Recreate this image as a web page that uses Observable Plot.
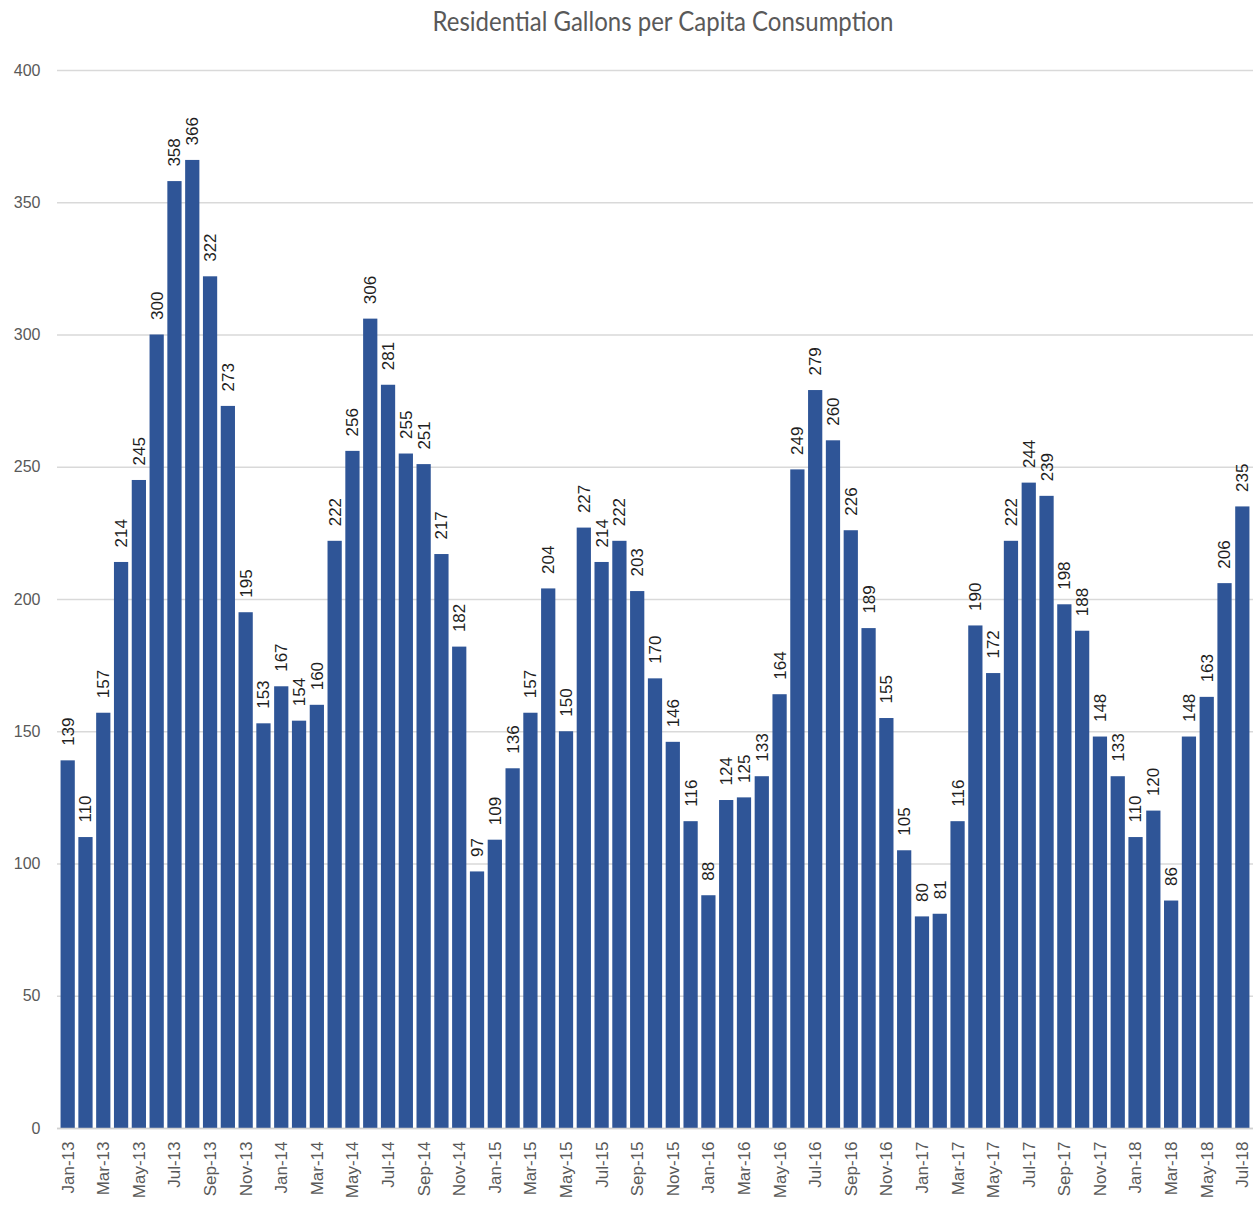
<!DOCTYPE html>
<html>
<head>
<meta charset="utf-8">
<script src="https://cdn.jsdelivr.net/npm/d3@7"></script>
<script src="https://cdn.jsdelivr.net/npm/@observablehq/plot@0.6"></script>
<style>
  html, body { margin: 0; padding: 0; background: #fff; }
  #title { position: relative; height: 45px; width: 1259px; }
  #title span { position: absolute; left: 663px; top: 3px; transform: translateX(-50%) scaleY(1.15); transform-origin: 50% 0;
    font-family: Lato, "Open Sans", sans-serif; font-size: 24px; color: #595959; white-space: nowrap; }
</style>
</head>
<body>
<div id="title"><span>Residential Gallons per Capita Consumption</span></div>
<div id="chart"></div>
<script>
const months = [
  "Jan-13","Feb-13","Mar-13","Apr-13","May-13","Jun-13","Jul-13","Aug-13","Sep-13","Oct-13","Nov-13","Dec-13",
  "Jan-14","Feb-14","Mar-14","Apr-14","May-14","Jun-14","Jul-14","Aug-14","Sep-14","Oct-14","Nov-14","Dec-14",
  "Jan-15","Feb-15","Mar-15","Apr-15","May-15","Jun-15","Jul-15","Aug-15","Sep-15","Oct-15","Nov-15","Dec-15",
  "Jan-16","Feb-16","Mar-16","Apr-16","May-16","Jun-16","Jul-16","Aug-16","Sep-16","Oct-16","Nov-16","Dec-16",
  "Jan-17","Feb-17","Mar-17","Apr-17","May-17","Jun-17","Jul-17","Aug-17","Sep-17","Oct-17","Nov-17","Dec-17",
  "Jan-18","Feb-18","Mar-18","Apr-18","May-18","Jun-18","Jul-18"
];
const gallons = [
  139,110,157,214,245,300,358,366,322,273,195,153,
  167,154,160,222,256,306,281,255,251,217,182,97,
  109,136,157,204,150,227,214,222,203,170,146,116,
  88,124,125,133,164,249,279,260,226,189,155,105,
  80,81,116,190,172,222,244,239,198,188,148,133,
  110,120,86,148,163,206,235
];
const yTicks = [0,50,100,150,200,250,300,350,400];
const xTickLabels = months.filter((m, i) => i % 2 === 0);

const data = months.map((m, i) => ({month: m, value: gallons[i]}));

const chart = Plot.plot({
  width: 1259,
  height: 1170,
  marginTop: 25,
  marginBottom: 87,
  marginLeft: 57,
  marginRight: 6,
  style: {fontFamily: "'Liberation Sans', Arial, sans-serif", background: "#fff"},
  x: {type: "band", domain: months, padding: 0.2, label: null},
  y: {domain: [0, 400], label: null},
  marks: [
    Plot.gridY(yTicks, {stroke: "#d9d9d9", strokeOpacity: 1, strokeWidth: 1.3}),
    Plot.barY(data, {x: "month", y: "value", fill: "#2F5597"}),
    Plot.ruleY([0], {stroke: "#d0d0d0", strokeWidth: 1.5}),
    Plot.axisY(yTicks, {tickSize: 0, tickPadding: 17, fontSize: 16, color: "#595959", label: null}),
    Plot.axisX(xTickLabels, {tickSize: 0, tickRotate: -90, tickPadding: 13, fontSize: 17, color: "#595959", label: null}),
    Plot.text(data, {x: "month", y: "value", text: d => String(d.value), rotate: -90, textAnchor: "start",
      dy: -15, fontSize: 17, fill: "#1f1f1f"})
  ]
});
document.getElementById("chart").appendChild(chart);
</script>
</body>
</html>
